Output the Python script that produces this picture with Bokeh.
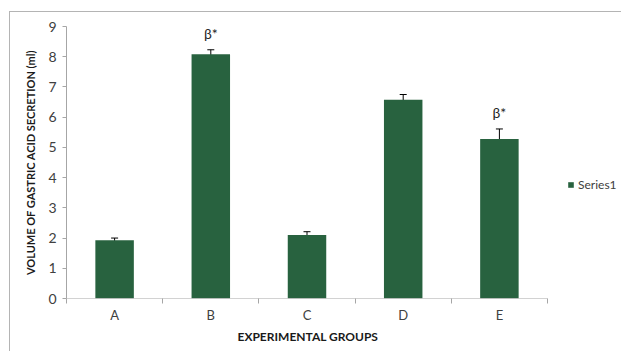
from bokeh.plotting import figure
from bokeh.models import (ColumnDataSource, Whisker, TeeHead, FixedTicker, Legend,
                          LegendItem, Title)
from bokeh.embed import file_html
from bokeh.resources import INLINE
from bokeh.core.properties import value

groups = ["A", "B", "C", "D", "E"]
volumes = [1.93, 8.08, 2.10, 6.58, 5.28]
errors = [0.07, 0.15, 0.11, 0.17, 0.33]
marks = ["", "β*", "", "", "β*"]
y_ticks = [0, 1, 2, 3, 4, 5, 6, 7, 8, 9]

n = len(groups)
xs = [i + 0.5 for i in range(n)]
src = ColumnDataSource(dict(
    x=xs, top=volumes,
    upper=[v + e for v, e in zip(volumes, errors)],
    lower=[v - e for v, e in zip(volumes, errors)],
    ty=[v + e + 0.55 for v, e in zip(volumes, errors)],
    mark=marks,
))

FONT = "Lato"
# plot area spans the category axis (481 px) plus the legend strip (75 px)
x_end = n * 556 / 481
p = figure(width=612, height=340, output_backend="svg", toolbar_location=None,
           x_range=(0, x_end), y_range=(0, 9),
           min_border_left=56, min_border_right=0, min_border_top=14, min_border_bottom=54)
p.styles = {"margin-top": "11px", "margin-left": "9px",
            "border-top": "1px solid #b4b4b4", "border-left": "1px solid #b4b4b4"}
p.outline_line_color = None
p.grid.grid_line_color = None
p.background_fill_color = "white"

bars = p.vbar(x="x", top="top", width=0.4, source=src,
              fill_color="#28623f", line_color=None)

# category axis baseline (only under the categories)
p.segment(x0=[0], y0=[0], x1=[n], y1=[0], line_color="#a6a6a6", line_width=1)

w = Whisker(source=src, base="x", upper="upper", lower="lower",
            line_color="black", line_width=1,
            upper_head=TeeHead(size=7, line_color="black", line_width=1),
            lower_head=TeeHead(size=7, line_color="black", line_width=1))
p.add_layout(w)

p.text(x="x", y="ty", text="mark", source=src, text_align="center",
       text_baseline="middle", text_font=value(FONT), text_font_size="14px",
       text_color="#262626")

# x axis
p.xaxis.ticker = FixedTicker(ticks=xs, minor_ticks=list(range(n + 1)))
p.xaxis.major_label_overrides = {x: g for x, g in zip(xs, groups)}
p.xaxis.major_tick_line_color = None
p.xaxis.minor_tick_line_color = "#a6a6a6"
p.xaxis.minor_tick_out = 5
p.xaxis.minor_tick_in = 0
p.xaxis.axis_line_color = None
p.xaxis.major_label_text_font = FONT
p.xaxis.major_label_text_font_size = "13px"
p.xaxis.major_label_text_color = "#404040"
p.xaxis.major_label_standoff = 2

xt = Title(text="EXPERIMENTAL GROUPS", align="left", offset=171, standoff=2,
           text_font=FONT, text_font_style="bold", text_font_size="12px",
           text_color="#1a1a1a")
p.add_layout(xt, "below")

# y axis
p.yaxis.ticker = FixedTicker(ticks=y_ticks, minor_ticks=[])
p.yaxis.major_tick_line_color = "#a6a6a6"
p.yaxis.major_tick_out = 4
p.yaxis.major_tick_in = 0
p.yaxis.minor_tick_line_color = None
p.yaxis.axis_line_color = "#a6a6a6"
p.yaxis.major_label_text_font = FONT
p.yaxis.major_label_text_font_size = "14px"
p.yaxis.major_label_text_color = "#404040"
p.yaxis.major_label_standoff = 6
p.yaxis.axis_label = "VOLUME OF GASTRIC ACID SECRETION (ml)"
p.yaxis.axis_label_text_font = FONT
p.yaxis.axis_label_text_font_style = "bold"
p.yaxis.axis_label_text_font_size = "11px"
p.yaxis.axis_label_text_color = "#1a1a1a"
p.yaxis.axis_label_standoff = 8

legend = Legend(items=[LegendItem(label="Series1", renderers=[bars])],
                location=(501, 106), orientation="vertical",
                border_line_color=None, background_fill_alpha=0,
                margin=0, padding=0, glyph_width=7, glyph_height=7,
                label_standoff=4, label_text_font=FONT, label_text_font_size="12px",
                label_text_color="#404040")
p.add_layout(legend, "center")

open("out.html", "w").write(file_html(p, INLINE))
